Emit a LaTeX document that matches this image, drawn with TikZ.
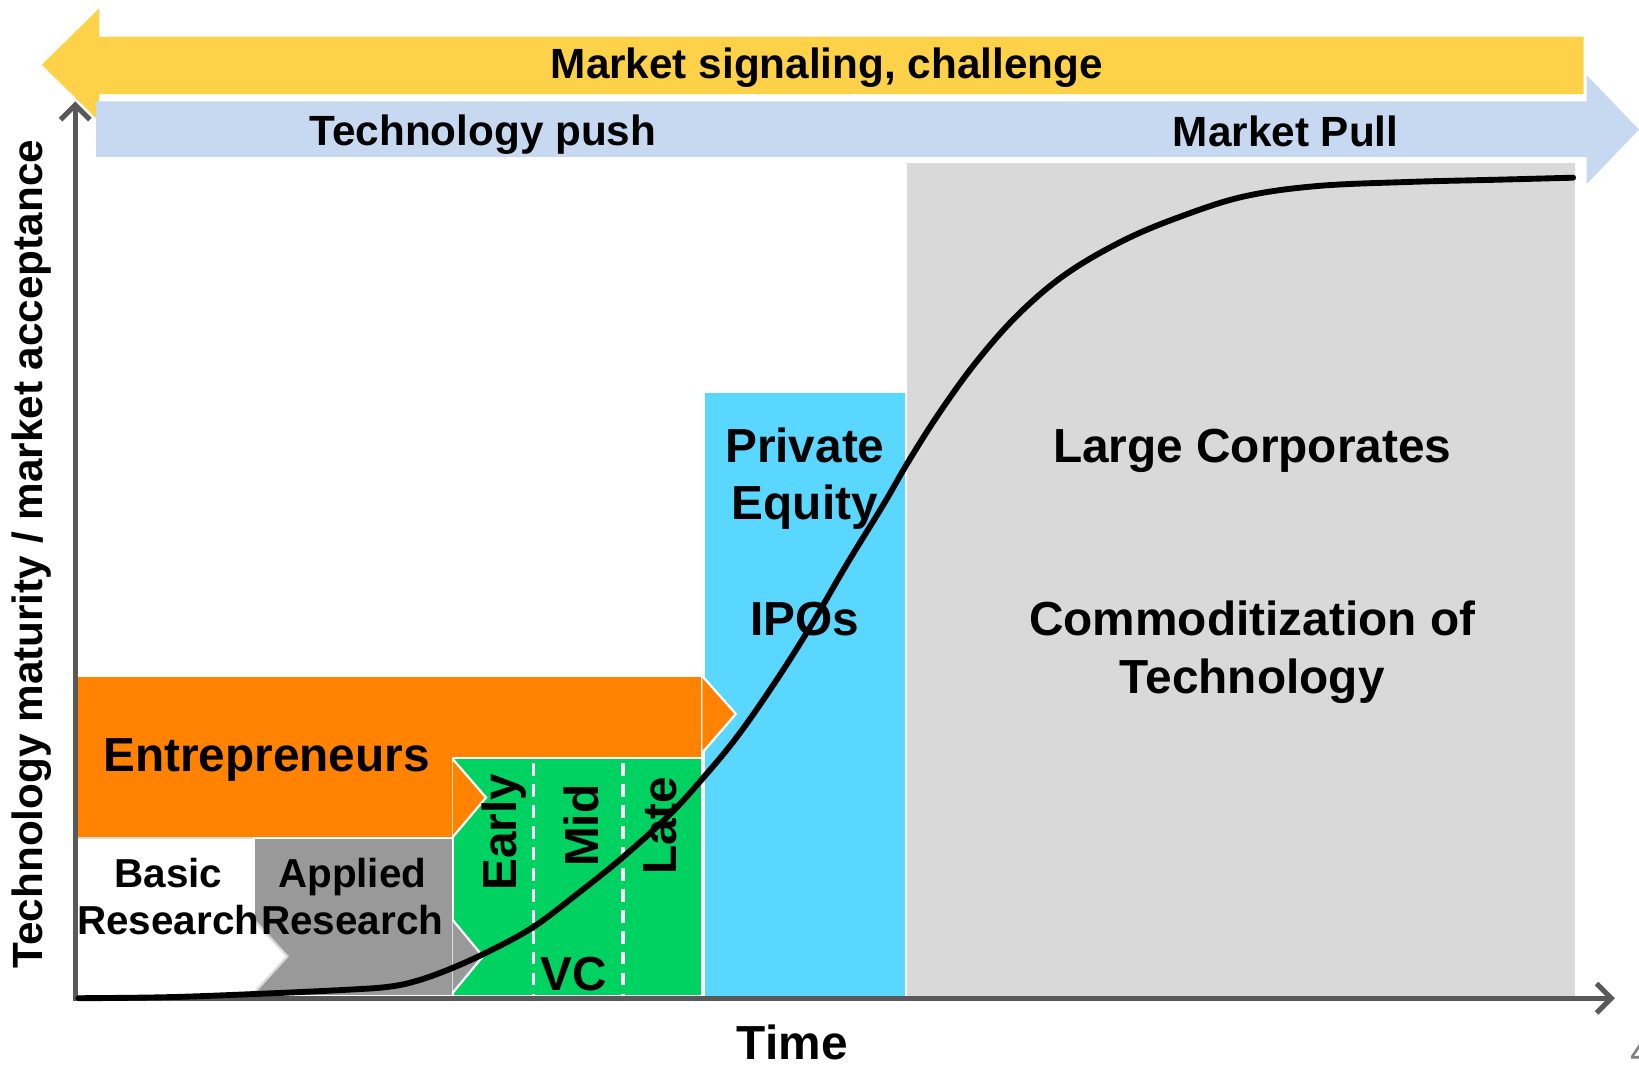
\documentclass[tikz,border=0pt]{standalone}
\usepackage{fontspec}
\setmainfont{Liberation Sans}
\usetikzlibrary{arrows.meta, positioning}
\definecolor{slideYellow}{HTML}{FDD248}
\definecolor{slideBlue}{HTML}{C6D9F1}
\definecolor{slideGray}{HTML}{D9D9D9}
\definecolor{slideCyan}{HTML}{5AD7FF}
\definecolor{slideOrange}{HTML}{FF8300}
\definecolor{slideGreen}{HTML}{00D262}
\definecolor{slideDark}{HTML}{999999}
\definecolor{slideAxis}{HTML}{595959}

\begin{document}
\begin{tikzpicture}[x=0.01cm, y=-0.01cm,
    bandtext/.style = {font=\bfseries\fontsize{11.5}{13.5}\selectfont, inner sep=0pt},
    stagetext/.style = {font=\bfseries\fontsize{13}{15.6}\selectfont, align=center, inner sep=0pt},
    researchtext/.style = {font=\bfseries\fontsize{11}{12.8}\selectfont, align=center, inner sep=0pt},
    stagebox/.style = {draw=white, line width=0.6pt}]
  \def\axisWidth{1.4pt}
  \def\headLength{32}

  \useasboundingbox (0, 0) rectangle (1568, 1019);

  % ------------------------
  % signaling bands
  % ------------------------

  \fill[slideYellow] (95, 35) -- (1515, 35) -- (1515, 90) -- (95, 90)
    -- (95, 116) -- (40, 62) -- (95, 8) -- cycle;
  \fill[slideBlue] (92, 97) -- (1518, 97) -- (1518, 72) -- (1568, 124)
    -- (1518, 176) -- (1518, 150) -- (92, 150) -- cycle;

  \node[bandtext] (signal) at (791, 65) {Market signaling, challenge};
  \node[bandtext] (push) at (462, 129) {Technology push};
  \node[bandtext] (pull) at (1230, 126) {Market Pull};

  % ------------------------
  % funding stages
  % ------------------------

  \fill[slideGray] (868, 156) rectangle (1507, 953);
  \fill[slideCyan] (674, 376) rectangle (866, 953);

  \draw[stagebox, fill = slideOrange] (73, 647) rectangle (672, 802);
  \draw[stagebox, fill = slideOrange] (672, 647) -- (672 + \headLength, 683) -- (672, 720);
  \draw[stagebox, fill = slideGreen] (433, 725) rectangle (672, 953);
  \draw[stagebox, fill = slideOrange] (433, 726) -- (433 + \headLength, 763) -- (433, 801);

  \draw[draw = slideGray, line width = 0.6pt, fill = white] (73, 802) rectangle (243, 953);
  \draw[stagebox, fill = slideDark] (243, 802) rectangle (433, 953);
  \draw[draw = slideGray, line width = 0.6pt, fill = white] (243, 880) -- (243 + \headLength, 915) -- (243, 950);
  \draw[stagebox, fill = slideDark] (433, 880) -- (433 + 29, 915) -- (433, 950);

  \foreach \split in {510, 596} {
    \draw[white, line width = 0.85pt, dash pattern = on 3.5pt off 2.2pt] (\split, 730) -- (\split, 953);
  }

  \node[stagetext] (corp) at (1198, 431) {Large Corporates};
  \node[stagetext] (commod) at (1198, 624) {Commoditization of\\Technology};
  \node[stagetext] (pe) at (770, 458) {Private\\Equity};
  \node[stagetext] (ipo) at (770, 592) {IPOs};
  \node[stagetext] (entre) at (255, 727) {Entrepreneurs};
  \node[researchtext] (basic) at (161, 858) {Basic\\Research};
  \node[researchtext] (applied) at (337, 858) {Applied\\Research};
  \node[stagetext, rotate = 90] (early) at (482, 796) {Early};
  \node[stagetext, rotate = 90] (mid) at (556, 790) {Mid};
  \node[stagetext, rotate = 90] (late) at (632, 790) {Late};
  \node[stagetext] (vc) at (549, 932) {VC};

  % ------------------------
  % axes and adoption curve
  % ------------------------

  \coordinate (O) at (72, 955);
  \coordinate (Ytip) at (72, 97);
  \coordinate (Xtip) at (1545, 955);

  \draw[slideAxis, line width = \axisWidth, line join = miter,
    {Straight Barb[length = 4pt, width = 8pt]}-{Straight Barb[length = 4pt, width = 8pt]}]
    (Ytip) -- (O) -- (Xtip);

  \draw[black, line width = 1.6pt, line cap = round] plot[smooth, tension = 0.6] coordinates {
    (75, 955) (160, 954) (243, 951) (330, 947) (372, 944) (400, 938) (433, 926)
    (470, 909) (510, 887) (550, 857) (596, 820) (640, 780) (672, 745) (705, 705)
    (740, 655) (775, 600) (810, 540) (845, 483) (870, 440) (900, 393) (935, 345)
    (975, 300) (1020, 262) (1075, 230) (1130, 207) (1190, 188) (1260, 178)
    (1350, 174) (1430, 172) (1505, 170)};

  \node[stagetext] (time) at (758, 997) {Time};
  \node[bandtext, rotate = 90] (maturity) at (30, 530) {Technology maturity / market acceptance};
  \node[anchor = west, text = gray, font = \fontsize{11}{13}\selectfont, inner sep = 0pt] (page) at (1559, 1006) {4};
\end{tikzpicture}
\end{document}
